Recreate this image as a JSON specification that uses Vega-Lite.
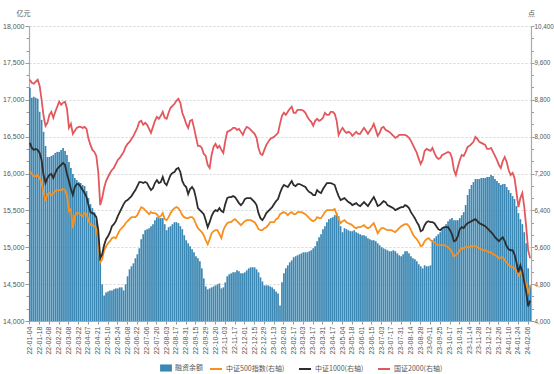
{
"$schema":"https://vega.github.io/schema/vega-lite/v6.json",
"width":502,"height":295,
"autosize":{"type":"none"},
"padding":{"left":29,"top":26,"right":23,"bottom":53},
"background":"white",
"config":{"view":{"stroke":null},"font":"Noto Sans CJK SC"},
"data":{"values":[
{"d":"22-01-04","m":17163,"a":7254,"b":7864,"c":9235},
{"d":"22-01-06","m":17027,"a":7189,"b":7755,"c":9170},
{"d":"22-01-10","m":17041,"a":7146,"b":7712,"c":9148},
{"d":"22-01-12","m":17027,"a":7146,"b":7733,"c":9192},
{"d":"22-01-14","m":17014,"a":7167,"b":7712,"c":9235},
{"d":"22-01-18","m":16837,"a":7102,"b":7646,"c":9105},
{"d":"22-01-20","m":16728,"a":6993,"b":7494,"c":8800},
{"d":"22-01-24","m":16565,"a":6797,"b":7167,"c":8452},
{"d":"22-01-26","m":16374,"a":6601,"b":6993,"c":8234},
{"d":"22-01-28","m":16224,"a":6754,"b":7102,"c":8299},
{"d":"22-02-08","m":16224,"a":6776,"b":7167,"c":8473},
{"d":"22-02-10","m":16238,"a":6732,"b":7189,"c":8539},
{"d":"22-02-14","m":16252,"a":6776,"b":7102,"c":8408},
{"d":"22-02-16","m":16279,"a":6819,"b":7211,"c":8539},
{"d":"22-02-18","m":16293,"a":6841,"b":7298,"c":8648},
{"d":"22-02-22","m":16293,"a":6841,"b":7342,"c":8756},
{"d":"22-02-24","m":16320,"a":6841,"b":7385,"c":8691},
{"d":"22-02-28","m":16347,"a":6863,"b":7429,"c":8735},
{"d":"22-03-02","m":16306,"a":6841,"b":7385,"c":8756},
{"d":"22-03-04","m":16252,"a":6732,"b":7189,"c":8604},
{"d":"22-03-08","m":16156,"a":6384,"b":7037,"c":8190},
{"d":"22-03-10","m":16075,"a":6427,"b":6863,"c":8277},
{"d":"22-03-14","m":15993,"a":6014,"b":6732,"c":8060},
{"d":"22-03-16","m":15939,"a":6275,"b":6906,"c":8125},
{"d":"22-03-18","m":15912,"a":6340,"b":6971,"c":8190},
{"d":"22-03-22","m":15884,"a":6340,"b":6971,"c":8212},
{"d":"22-03-24","m":15871,"a":6297,"b":6906,"c":8212},
{"d":"22-03-28","m":15844,"a":6275,"b":6841,"c":8190},
{"d":"22-03-30","m":15830,"a":6340,"b":6776,"c":8212},
{"d":"22-04-01","m":15762,"a":6318,"b":6688,"c":8169},
{"d":"22-04-07","m":15667,"a":6188,"b":6514,"c":7951},
{"d":"22-04-11","m":15585,"a":6079,"b":6362,"c":7820},
{"d":"22-04-13","m":15531,"a":6079,"b":6340,"c":7712},
{"d":"22-04-15","m":15476,"a":6057,"b":6318,"c":7668},
{"d":"22-04-19","m":15367,"a":6014,"b":6253,"c":7581},
{"d":"22-04-21","m":15122,"a":5752,"b":5970,"c":7233},
{"d":"22-04-25","m":14796,"a":5273,"b":5360,"c":6514},
{"d":"22-04-27","m":14497,"a":5339,"b":5448,"c":6667},
{"d":"22-04-29","m":14347,"a":5535,"b":5644,"c":6884},
{"d":"22-05-06","m":14388,"a":5622,"b":5774,"c":7037},
{"d":"22-05-10","m":14401,"a":5687,"b":5839,"c":7124},
{"d":"22-05-12","m":14415,"a":5731,"b":5927,"c":7211},
{"d":"22-05-16","m":14415,"a":5796,"b":6057,"c":7276},
{"d":"22-05-18","m":14429,"a":5818,"b":6101,"c":7320},
{"d":"22-05-20","m":14442,"a":5796,"b":6166,"c":7407},
{"d":"22-05-24","m":14442,"a":5883,"b":6275,"c":7494},
{"d":"22-05-26","m":14456,"a":5970,"b":6362,"c":7537},
{"d":"22-05-30","m":14456,"a":6014,"b":6449,"c":7603},
{"d":"22-06-01","m":14415,"a":6057,"b":6536,"c":7668},
{"d":"22-06-06","m":14497,"a":6122,"b":6601,"c":7777},
{"d":"22-06-08","m":14606,"a":6166,"b":6623,"c":7842},
{"d":"22-06-10","m":14701,"a":6210,"b":6667,"c":7886},
{"d":"22-06-14","m":14742,"a":6253,"b":6710,"c":7951},
{"d":"22-06-16","m":14782,"a":6253,"b":6776,"c":8016},
{"d":"22-06-20","m":14850,"a":6253,"b":6841,"c":8103},
{"d":"22-06-22","m":14905,"a":6297,"b":6928,"c":8190},
{"d":"22-06-24","m":14986,"a":6384,"b":7015,"c":8321},
{"d":"22-06-28","m":15109,"a":6471,"b":7015,"c":8343},
{"d":"22-06-30","m":15177,"a":6449,"b":6993,"c":8256},
{"d":"22-07-04","m":15231,"a":6405,"b":7015,"c":8299},
{"d":"22-07-06","m":15245,"a":6362,"b":6993,"c":8256},
{"d":"22-07-08","m":15259,"a":6318,"b":6906,"c":8169},
{"d":"22-07-12","m":15286,"a":6362,"b":6841,"c":8082},
{"d":"22-07-14","m":15313,"a":6340,"b":6884,"c":8212},
{"d":"22-07-18","m":15367,"a":6340,"b":6993,"c":8343},
{"d":"22-07-20","m":15408,"a":6318,"b":7058,"c":8430},
{"d":"22-07-22","m":15395,"a":6253,"b":6993,"c":8386},
{"d":"22-07-26","m":15395,"a":6275,"b":7015,"c":8452},
{"d":"22-07-28","m":15395,"a":6340,"b":7124,"c":8539},
{"d":"22-08-01","m":15313,"a":6210,"b":6993,"c":8408},
{"d":"22-08-03","m":15231,"a":6188,"b":6950,"c":8386},
{"d":"22-08-05","m":15272,"a":6253,"b":7058,"c":8517},
{"d":"22-08-09","m":15286,"a":6340,"b":7167,"c":8626},
{"d":"22-08-11","m":15313,"a":6405,"b":7211,"c":8669},
{"d":"22-08-15","m":15340,"a":6449,"b":7233,"c":8713},
{"d":"22-08-17","m":15340,"a":6471,"b":7298,"c":8778},
{"d":"22-08-19","m":15327,"a":6449,"b":7320,"c":8822},
{"d":"22-08-23","m":15286,"a":6384,"b":7233,"c":8735},
{"d":"22-08-25","m":15245,"a":6297,"b":7037,"c":8517},
{"d":"22-08-29","m":15163,"a":6253,"b":6950,"c":8408},
{"d":"22-08-31","m":15095,"a":6231,"b":6906,"c":8277},
{"d":"22-09-02","m":15054,"a":6231,"b":6754,"c":8190},
{"d":"22-09-06","m":15014,"a":6253,"b":6863,"c":8343},
{"d":"22-09-08","m":14973,"a":6253,"b":6906,"c":8365},
{"d":"22-09-13","m":14932,"a":6210,"b":6841,"c":8190},
{"d":"22-09-15","m":14878,"a":6101,"b":6667,"c":7995},
{"d":"22-09-19","m":14850,"a":6014,"b":6449,"c":7799},
{"d":"22-09-21","m":14810,"a":5970,"b":6405,"c":7799},
{"d":"22-09-23","m":14714,"a":5927,"b":6362,"c":7755},
{"d":"22-09-27","m":14578,"a":5861,"b":6318,"c":7624},
{"d":"22-09-29","m":14469,"a":5752,"b":6188,"c":7581},
{"d":"22-10-10","m":14429,"a":5665,"b":6035,"c":7385},
{"d":"22-10-12","m":14442,"a":5774,"b":6144,"c":7320},
{"d":"22-10-14","m":14456,"a":5905,"b":6275,"c":7603},
{"d":"22-10-18","m":14469,"a":5948,"b":6362,"c":7777},
{"d":"22-10-20","m":14483,"a":5970,"b":6405,"c":7842},
{"d":"22-10-24","m":14497,"a":5970,"b":6384,"c":7755},
{"d":"22-10-26","m":14510,"a":5883,"b":6449,"c":7799},
{"d":"22-10-28","m":14442,"a":5796,"b":6384,"c":7712},
{"d":"22-11-01","m":14456,"a":5970,"b":6362,"c":7646},
{"d":"22-11-03","m":14524,"a":6057,"b":6536,"c":7908},
{"d":"22-11-07","m":14606,"a":6122,"b":6667,"c":8103},
{"d":"22-11-09","m":14633,"a":6144,"b":6688,"c":8125},
{"d":"22-11-11","m":14646,"a":6144,"b":6688,"c":8147},
{"d":"22-11-15","m":14660,"a":6188,"b":6710,"c":8190},
{"d":"22-11-17","m":14660,"a":6210,"b":6688,"c":8190},
{"d":"22-11-21","m":14687,"a":6166,"b":6623,"c":8147},
{"d":"22-11-23","m":14674,"a":6122,"b":6558,"c":8169},
{"d":"22-11-25","m":14646,"a":6079,"b":6514,"c":8103},
{"d":"22-11-29","m":14646,"a":6122,"b":6558,"c":8038},
{"d":"22-12-01","m":14660,"a":6166,"b":6645,"c":8147},
{"d":"22-12-05","m":14687,"a":6188,"b":6667,"c":8212},
{"d":"22-12-07","m":14714,"a":6188,"b":6667,"c":8190},
{"d":"22-12-09","m":14728,"a":6188,"b":6667,"c":8147},
{"d":"22-12-13","m":14728,"a":6166,"b":6623,"c":8103},
{"d":"22-12-15","m":14728,"a":6144,"b":6580,"c":8060},
{"d":"22-12-19","m":14701,"a":6079,"b":6514,"c":7973},
{"d":"22-12-21","m":14660,"a":5992,"b":6340,"c":7755},
{"d":"22-12-23","m":14592,"a":5970,"b":6231,"c":7624},
{"d":"22-12-27","m":14537,"a":5970,"b":6188,"c":7603},
{"d":"22-12-29","m":14483,"a":6014,"b":6253,"c":7712},
{"d":"23-01-03","m":14483,"a":6035,"b":6340,"c":7820},
{"d":"23-01-05","m":14483,"a":6079,"b":6384,"c":7886},
{"d":"23-01-09","m":14469,"a":6144,"b":6427,"c":7951},
{"d":"23-01-11","m":14456,"a":6144,"b":6471,"c":7973},
{"d":"23-01-13","m":14429,"a":6144,"b":6536,"c":7995},
{"d":"23-01-17","m":14401,"a":6210,"b":6601,"c":8038},
{"d":"23-01-19","m":14374,"a":6231,"b":6645,"c":8082},
{"d":"23-01-30","m":14211,"a":6318,"b":6776,"c":8277},
{"d":"23-02-01","m":14524,"a":6340,"b":6884,"c":8452},
{"d":"23-02-03","m":14646,"a":6362,"b":6950,"c":8517},
{"d":"23-02-07","m":14714,"a":6340,"b":6928,"c":8473},
{"d":"23-02-09","m":14755,"a":6297,"b":6906,"c":8539},
{"d":"23-02-13","m":14796,"a":6340,"b":6971,"c":8604},
{"d":"23-02-15","m":14823,"a":6362,"b":7037,"c":8648},
{"d":"23-02-17","m":14864,"a":6318,"b":6950,"c":8517},
{"d":"23-02-21","m":14878,"a":6318,"b":6928,"c":8517},
{"d":"23-02-23","m":14891,"a":6362,"b":6971,"c":8582},
{"d":"23-02-27","m":14905,"a":6362,"b":6971,"c":8582},
{"d":"23-03-01","m":14918,"a":6362,"b":6950,"c":8582},
{"d":"23-03-03","m":14932,"a":6340,"b":6928,"c":8561},
{"d":"23-03-07","m":14932,"a":6318,"b":6906,"c":8517},
{"d":"23-03-09","m":14932,"a":6275,"b":6841,"c":8430},
{"d":"23-03-13","m":14946,"a":6231,"b":6797,"c":8365},
{"d":"23-03-15","m":14959,"a":6188,"b":6776,"c":8321},
{"d":"23-03-17","m":14986,"a":6166,"b":6732,"c":8234},
{"d":"23-03-21","m":15014,"a":6188,"b":6732,"c":8343},
{"d":"23-03-23","m":15082,"a":6253,"b":6841,"c":8386},
{"d":"23-03-27","m":15136,"a":6231,"b":6797,"c":8343},
{"d":"23-03-29","m":15177,"a":6231,"b":6776,"c":8365},
{"d":"23-03-31","m":15245,"a":6297,"b":6863,"c":8408},
{"d":"23-04-04","m":15286,"a":6362,"b":6928,"c":8517},
{"d":"23-04-07","m":15340,"a":6405,"b":6993,"c":8473},
{"d":"23-04-11","m":15381,"a":6405,"b":6993,"c":8473},
{"d":"23-04-13","m":15395,"a":6405,"b":6993,"c":8539},
{"d":"23-04-17","m":15408,"a":6405,"b":6971,"c":8539},
{"d":"23-04-19","m":15435,"a":6427,"b":6950,"c":8495},
{"d":"23-04-21","m":15463,"a":6318,"b":6819,"c":8343},
{"d":"23-04-25","m":15422,"a":6210,"b":6710,"c":8038},
{"d":"23-04-27","m":15286,"a":6122,"b":6623,"c":8125},
{"d":"23-05-04","m":15204,"a":6166,"b":6645,"c":8190},
{"d":"23-05-08","m":15259,"a":6188,"b":6667,"c":8125},
{"d":"23-05-10","m":15245,"a":6144,"b":6623,"c":8082},
{"d":"23-05-12","m":15231,"a":6122,"b":6580,"c":8103},
{"d":"23-05-16","m":15218,"a":6101,"b":6558,"c":8082},
{"d":"23-05-18","m":15218,"a":6079,"b":6514,"c":8016},
{"d":"23-05-22","m":15231,"a":6035,"b":6536,"c":8060},
{"d":"23-05-24","m":15204,"a":6014,"b":6558,"c":8103},
{"d":"23-05-26","m":15190,"a":6035,"b":6514,"c":8060},
{"d":"23-05-30","m":15177,"a":6035,"b":6493,"c":8060},
{"d":"23-06-01","m":15163,"a":6057,"b":6536,"c":8125},
{"d":"23-06-05","m":15163,"a":6079,"b":6580,"c":8190},
{"d":"23-06-07","m":15150,"a":6035,"b":6536,"c":8125},
{"d":"23-06-09","m":15122,"a":6014,"b":6493,"c":8060},
{"d":"23-06-13","m":15109,"a":6035,"b":6558,"c":8125},
{"d":"23-06-15","m":15095,"a":6079,"b":6623,"c":8190},
{"d":"23-06-19","m":15095,"a":6122,"b":6688,"c":8277},
{"d":"23-06-21","m":15082,"a":6014,"b":6601,"c":8147},
{"d":"23-06-27","m":15054,"a":5905,"b":6493,"c":8016},
{"d":"23-06-29","m":15027,"a":5970,"b":6514,"c":8082},
{"d":"23-07-03","m":15000,"a":6014,"b":6558,"c":8190},
{"d":"23-07-05","m":14986,"a":6014,"b":6601,"c":8212},
{"d":"23-07-07","m":14973,"a":5992,"b":6580,"c":8147},
{"d":"23-07-11","m":14959,"a":5970,"b":6514,"c":8125},
{"d":"23-07-13","m":14946,"a":5970,"b":6493,"c":8103},
{"d":"23-07-17","m":14946,"a":5970,"b":6471,"c":8060},
{"d":"23-07-19","m":14959,"a":5948,"b":6449,"c":8016},
{"d":"23-07-21","m":14946,"a":5927,"b":6405,"c":7973},
{"d":"23-07-25","m":14918,"a":5970,"b":6427,"c":7995},
{"d":"23-07-27","m":14891,"a":6014,"b":6449,"c":8038},
{"d":"23-07-31","m":14878,"a":6057,"b":6471,"c":8038},
{"d":"23-08-02","m":14905,"a":6079,"b":6471,"c":8038},
{"d":"23-08-04","m":14946,"a":6101,"b":6514,"c":8038},
{"d":"23-08-08","m":14946,"a":6101,"b":6493,"c":8016},
{"d":"23-08-10","m":14918,"a":6057,"b":6449,"c":7973},
{"d":"23-08-14","m":14878,"a":5970,"b":6362,"c":7908},
{"d":"23-08-16","m":14850,"a":5883,"b":6297,"c":7820},
{"d":"23-08-18","m":14837,"a":5818,"b":6231,"c":7733},
{"d":"23-08-22","m":14810,"a":5774,"b":6144,"c":7646},
{"d":"23-08-24","m":14769,"a":5709,"b":6079,"c":7516},
{"d":"23-08-28","m":14742,"a":5622,"b":5948,"c":7407},
{"d":"23-08-30","m":14714,"a":5644,"b":5970,"c":7494},
{"d":"23-09-01","m":14755,"a":5731,"b":6079,"c":7690},
{"d":"23-09-05","m":14742,"a":5774,"b":6144,"c":7733},
{"d":"23-09-07","m":14742,"a":5796,"b":6166,"c":7712},
{"d":"23-09-11","m":14755,"a":5752,"b":6144,"c":7690},
{"d":"23-09-13","m":15095,"a":5731,"b":6144,"c":7755},
{"d":"23-09-15","m":15122,"a":5709,"b":6122,"c":7646},
{"d":"23-09-19","m":15150,"a":5665,"b":6057,"c":7559},
{"d":"23-09-21","m":15177,"a":5644,"b":5992,"c":7516},
{"d":"23-09-25","m":15204,"a":5644,"b":5970,"c":7537},
{"d":"23-09-27","m":15245,"a":5644,"b":6014,"c":7603},
{"d":"23-10-09","m":15272,"a":5644,"b":6035,"c":7624},
{"d":"23-10-11","m":15313,"a":5622,"b":6035,"c":7646},
{"d":"23-10-13","m":15354,"a":5600,"b":6035,"c":7668},
{"d":"23-10-17","m":15381,"a":5556,"b":5970,"c":7646},
{"d":"23-10-19","m":15395,"a":5491,"b":5883,"c":7537},
{"d":"23-10-23","m":15367,"a":5404,"b":5731,"c":7276},
{"d":"23-10-25","m":15367,"a":5426,"b":5752,"c":7167},
{"d":"23-10-27","m":15367,"a":5469,"b":5839,"c":7342},
{"d":"23-10-31","m":15395,"a":5535,"b":5992,"c":7494},
{"d":"23-11-02","m":15435,"a":5578,"b":6035,"c":7603},
{"d":"23-11-06","m":15476,"a":5578,"b":6014,"c":7581},
{"d":"23-11-08","m":15572,"a":5600,"b":6079,"c":7668},
{"d":"23-11-10","m":15708,"a":5600,"b":6122,"c":7777},
{"d":"23-11-14","m":15789,"a":5600,"b":6144,"c":7799},
{"d":"23-11-16","m":15844,"a":5622,"b":6166,"c":7842},
{"d":"23-11-20","m":15884,"a":5622,"b":6188,"c":7886},
{"d":"23-11-22","m":15925,"a":5622,"b":6210,"c":7995},
{"d":"23-11-24","m":15925,"a":5600,"b":6166,"c":7951},
{"d":"23-11-28","m":15925,"a":5578,"b":6122,"c":7886},
{"d":"23-11-30","m":15939,"a":5556,"b":6101,"c":7864},
{"d":"23-12-04","m":15939,"a":5535,"b":6079,"c":7842},
{"d":"23-12-06","m":15939,"a":5535,"b":6057,"c":7820},
{"d":"23-12-08","m":15952,"a":5513,"b":6014,"c":7733},
{"d":"23-12-12","m":15952,"a":5491,"b":5970,"c":7733},
{"d":"23-12-14","m":15980,"a":5491,"b":5927,"c":7755},
{"d":"23-12-18","m":15966,"a":5448,"b":5883,"c":7668},
{"d":"23-12-20","m":15925,"a":5426,"b":5818,"c":7581},
{"d":"23-12-22","m":15898,"a":5404,"b":5774,"c":7494},
{"d":"23-12-26","m":15871,"a":5360,"b":5731,"c":7385},
{"d":"23-12-28","m":15844,"a":5382,"b":5774,"c":7320},
{"d":"24-01-02","m":15857,"a":5382,"b":5818,"c":7472},
{"d":"24-01-04","m":15857,"a":5317,"b":5731,"c":7559},
{"d":"24-01-08","m":15816,"a":5273,"b":5622,"c":7450},
{"d":"24-01-10","m":15776,"a":5208,"b":5556,"c":7276},
{"d":"24-01-12","m":15735,"a":5186,"b":5535,"c":7167},
{"d":"24-01-16","m":15694,"a":5165,"b":5535,"c":7211},
{"d":"24-01-18","m":15653,"a":5143,"b":5448,"c":7102},
{"d":"24-01-22","m":15558,"a":5099,"b":5273,"c":6797},
{"d":"24-01-24","m":15463,"a":4990,"b":5056,"c":6471},
{"d":"24-01-26","m":15381,"a":5056,"b":5208,"c":6667},
{"d":"24-01-30","m":15313,"a":4990,"b":5077,"c":6776},
{"d":"24-02-01","m":15204,"a":4882,"b":4838,"c":6471},
{"d":"24-02-05","m":15054,"a":4794,"b":4620,"c":6035},
{"d":"24-02-06","m":14714,"a":4599,"b":4316,"c":5535},
{"d":"24-02-08","m":14483,"a":4773,"b":4446,"c":5360}
]},
"layer":[
{"mark":{"type":"bar","clip":true},
 "encoding":{
  "x":{"field":"d","type":"ordinal","scale":{"paddingInner":0.12,"paddingOuter":0},
   "axis":{"title":null,"values":["22-01-04","22-01-18","22-02-08","22-02-22","22-03-08","22-03-22","22-04-07","22-04-21","22-05-10","22-05-24","22-06-08","22-06-22","22-07-06","22-07-20","22-08-03","22-08-17","22-08-31","22-09-15","22-09-29","22-10-20","22-11-03","22-11-17","22-12-01","22-12-15","22-12-29","23-01-13","23-02-03","23-02-17","23-03-03","23-03-17","23-03-31","23-04-17","23-05-04","23-05-18","23-06-01","23-06-15","23-07-03","23-07-17","23-07-31","23-08-14","23-08-28","23-09-11","23-09-25","23-10-17","23-10-31","23-11-14","23-11-28","23-12-12","23-12-26","24-01-10","24-01-24","24-02-06"],
    "labelAngle":-90,"labelFontSize":7,"labelColor":"#555","labelPadding":2,"labelOverlap":false,"tickSize":3,"tickColor":"#999","domainColor":"#aaa","grid":false,"labelFont":"Liberation Sans"}},
  "y":{"field":"m","type":"quantitative","scale":{"domain":[14000,18000],"zero":false,"nice":false},
   "axis":{"orient":"left","values":[14000,14167,14333,14500,14667,14833,15000,15167,15333,15500,15667,15833,16000,16167,16333,16500,16667,16833,17000,17167,17333,17500,17667,17833,18000],
    "labelExpr":"datum.value % 500 === 0 ? format(datum.value, ',') : ''",
    "title":"亿元","titleAngle":0,"titleX":-6,"titleY":-13,"titleAlign":"center","titleBaseline":"middle","titleFontSize":7,"titleFontWeight":"normal","titleColor":"#555",
    "labelFontSize":7,"labelColor":"#555","labelPadding":1,"labelFont":"Liberation Sans",
    "tickSize":{"condition":{"test":"datum.value % 500 === 0","value":4},"value":3},"tickColor":"#999","domainColor":"#aaa","domainWidth":1.2,
    "grid":true,"gridDash":[2,2],"gridColor":"#d6d6d6",
    "gridOpacity":{"condition":{"test":"datum.value % 500 === 0 && datum.value > 14000","value":1},"value":0}}},
  "y2":{"datum":14000},
  "fill":{"datum":"融资余额","type":"nominal","scale":{"range":["#3c88b4"]},
   "legend":{"orient":"none","legendX":131,"legendY":336,"title":null,"direction":"horizontal","symbolType":"M-1,-0.6H1V0.6H-1Z","symbolSize":140,"symbolStrokeWidth":0,"labelFontSize":7,"labelColor":"#555","labelOffset":3}}
 }},
{"transform":[{"fold":["a","b","c"],"as":["k","v"]}],
 "mark":{"type":"line","strokeWidth":1.8,"clip":true},
 "encoding":{
  "x":{"field":"d","type":"ordinal"},
  "y":{"field":"v","type":"quantitative","scale":{"domain":[4000,10400],"zero":false,"nice":false},
   "axis":{"orient":"right","values":[4000,4267,4533,4800,5067,5333,5600,5867,6133,6400,6667,6933,7200,7467,7733,8000,8267,8533,8800,9067,9333,9600,9867,10133,10400],
    "labelExpr":"datum.value % 800 === 0 ? format(datum.value, ',') : ''",
    "title":"点","titleAngle":0,"titleX":0,"titleY":-13,"titleAlign":"center","titleBaseline":"middle","titleFontSize":7,"titleFontWeight":"normal","titleColor":"#555",
    "labelFontSize":6.3,"labelColor":"#555","labelPadding":0,"labelFont":"Liberation Sans",
    "tickSize":{"condition":{"test":"datum.value % 800 === 0","value":3},"value":2.5},"tickColor":"#999","domainColor":"#aaa","domainWidth":1.2,"grid":false}},
  "color":{"field":"k","type":"nominal","scale":{"domain":["a","b","c"],"range":["#f7901e","#2d2d2d","#e2585d"]},
   "legend":{"orient":"none","legendX":180,"legendY":336,"title":null,"direction":"horizontal","symbolType":"stroke","symbolSize":144,"symbolStrokeWidth":2,"labelFontSize":7,"labelColor":"#555","labelOffset":3,"columnPadding":10,
    "labelExpr":"datum.label == 'a' ? '中证500指数(右轴)' : datum.label == 'b' ? '中证1000(右轴)' : '国证2000(右轴)'"}}
 }}
],
"resolve":{"scale":{"y":"independent"}}
}
